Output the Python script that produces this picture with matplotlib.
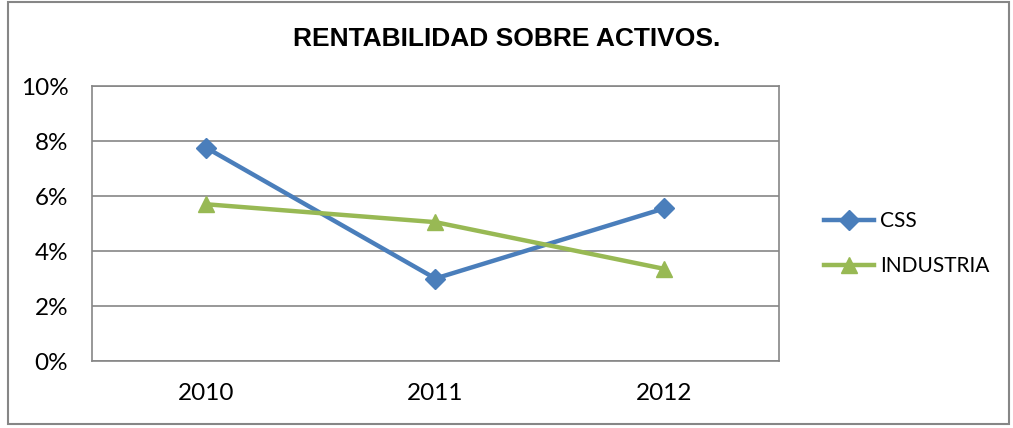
import matplotlib.pyplot as plt
from matplotlib.patches import Rectangle
from matplotlib.ticker import FuncFormatter

# datos
anios = ['2010', '2011', '2012']
css = [7.75, 3.0, 5.55]
industria = [5.7, 5.05, 3.35]

azul = '#4a7ebb'
verde = '#98b954'

plt.rcParams['font.family'] = ['Lato', 'DejaVu Sans']

fig = plt.figure(figsize=(10.13, 4.28), dpi=100)
ax = fig.add_axes([0.0908, 0.1565, 0.678, 0.6425])

x = range(len(anios))
ax.plot(x, css, color=azul, lw=3.2, marker='D', ms=10, label='CSS')
ax.plot(x, industria, color=verde, lw=3.2, marker='^', ms=12, label='INDUSTRIA')

ax.set_xlim(-0.5, 2.5)
ax.set_ylim(0, 10)
ax.set_yticks(range(0, 11, 2))
ax.yaxis.set_major_formatter(FuncFormatter(lambda v, p: f'{v:.0f}%'))
ax.set_xticks(list(x))
ax.set_xticklabels(anios)
ax.tick_params(length=0, labelsize=17.5, pad=16)
ax.tick_params(axis='y', pad=17)
ax.grid(axis='y', color='#868686', lw=1.2)
ax.set_axisbelow(True)
for s in ax.spines.values():
    s.set_color('#868686')
    s.set_linewidth(1.2)

fig.text(0.5, 0.91, 'RENTABILIDAD SOBRE ACTIVOS.', ha='center', va='center',
         fontsize=19, fontweight='bold', family='Liberation Sans')

fig.legend(loc='center left', bbox_to_anchor=(0.795, 0.43), frameon=False,
           fontsize=15, handlelength=2.4, labelspacing=1.2, handletextpad=0.3)

fig.add_artist(Rectangle((0.008, 0.01), 0.988, 0.985, transform=fig.transFigure,
                         fill=False, edgecolor='#868686', lw=1.5))

fig.savefig('out.png', dpi=100)
